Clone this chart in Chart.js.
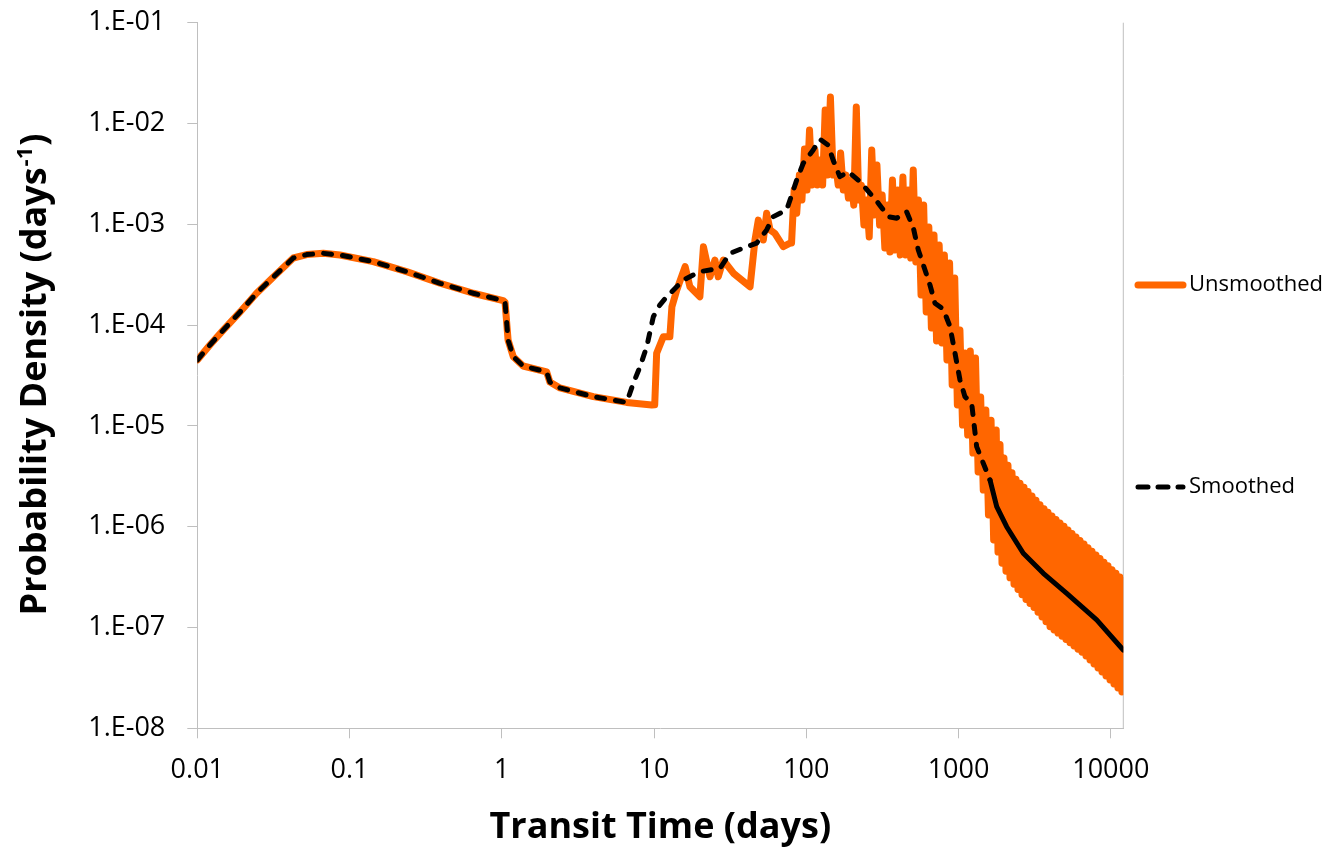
<!DOCTYPE html>
<html>
<head>
<meta charset="utf-8">
<script src="https://cdn.jsdelivr.net/npm/chart.js@4.4.0/dist/chart.umd.min.js"></script>
<style>
  html, body { margin: 0; background: #fff; }
  #wrap { width: 1332px; height: 852px; }
</style>
</head>
<body>
<div id="wrap"><canvas id="transit-canvas" width="1332" height="852"></canvas></div>
<script>
// part of the curve where both series are the same
const sharedDays = [0.01, 0.0121, 0.0148, 0.0191, 0.0245, 0.0316, 0.0427, 0.0523, 0.0673, 0.0865, 0.143, 0.237,
  0.393, 0.65, 1.02, 1.05, 1.10, 1.19, 1.38, 1.97, 2.07, 2.41, 3.99, 6.61]
const sharedDensity = [4.5e-5, 6.35e-5, 8.9e-5, 1.35e-4, 2.07e-4, 3.0e-4, 4.63e-4, 5.01e-4, 5.15e-4, 4.96e-4, 4.26e-4, 3.39e-4,
  2.6e-4, 2.07e-4, 1.75e-4, 1.69e-4, 7.1e-5, 4.86e-5, 3.93e-5, 3.43e-5, 2.72e-5, 2.38e-5, 1.95e-5, 1.71e-5]

const unsmoothedDays = [
  9.66, 10.1, 10.4, 11.5, 12.7, 13.1, 14.1, 16.0, 17.2, 20.0, 21.1, 23.3, 25.1, 26.4, 28.5, 33.2,
  42.7, 46.0, 48.4, 52.2, 54.9, 57.8, 62.3, 70.6, 78.2,
  80, 83.2, 86.5, 90, 93.6, 97.3, 101, 105, 109, 114, 118, 123, 128, 133, 138, 144, 150, 156, 162, 168,
  175, 182, 189, 197, 205, 213, 221, 230, 239, 249, 259, 269, 280, 291, 303, 315, 328, 341, 354, 368,
  383, 398, 414, 431, 448, 466, 485, 504, 524, 545,
  567, 590, 613, 638, 663, 690, 717, 746, 776, 807, 839, 873, 908, 944, 982, 1021, 1062, 1104, 1148, 1194,
  1242, 1292, 1344, 1397, 1453, 1511, 1572, 1635, 1700, 1768,
  1816, 1872, 1929, 1988, 2049, 2112, 2177, 2244, 2313, 2384, 2457, 2533, 2610, 2691, 2773, 2858,
  2946, 3037, 3130, 3226, 3325, 3427, 3533, 3641, 3753, 3868, 3987, 4109, 4236, 4366, 4500, 4638,
  4781, 4927, 5079, 5235, 5395, 5561, 5732, 5908, 6089, 6276, 6469, 6668, 6872, 7083, 7301, 7525,
  7756, 7994, 8240, 8493, 8753, 9022, 9299, 9585, 9879, 10180, 10490, 10810, 11140, 11480, 11830, 12190]
const unsmoothedDensity = [
  1.61e-5, 1.62e-5, 5.25e-5, 7.67e-5, 7.67e-5, 1.52e-4, 2.23e-4, 3.8e-4, 2.4e-4, 1.91e-4, 6.0e-4, 3.02e-4,
  4.42e-4, 3.02e-4, 4.42e-4, 3.27e-4, 2.4e-4, 6.98e-4, 1.1e-3, 6.98e-4, 1.29e-3, 8.8e-4, 8.1e-4, 6.0e-4, 6.5e-4,
  6.52e-4, 2.19e-3, 1.29e-3, 3.08e-3, 1.74e-3, 5.6e-3, 2.19e-3, 8.63e-3, 2.45e-3, 5.46e-3,
  2.45e-3, 4.34e-3, 2.45e-3, 1.36e-2, 3.08e-3, 1.83e-2, 3.08e-3, 3.88e-3, 2.45e-3, 5.09e-3,
  2.19e-3, 3.08e-3, 1.82e-3, 2.75e-3, 1.55e-3, 1.46e-2, 1.74e-3, 2.45e-3, 9.84e-4, 1.74e-3,
  7.48e-4, 5.46e-3, 1.24e-3, 3.88e-3, 9.84e-4, 1.95e-3, 5.82e-4, 1.55e-3, 5.31e-4, 2.75e-3,
  5.56e-4, 2.19e-3, 4.96e-4, 2.94e-3, 4.96e-4, 2.19e-3, 4.63e-4, 3.46e-3, 4.23e-4, 1.74e-3,
  1.99e-4, 1.55e-3, 1.35e-4, 9.40e-4, 9.36e-5, 7.83e-4, 6.96e-5, 6.23e-4, 6.64e-5, 4.96e-4,
  4.51e-5, 4.13e-4, 2.55e-5, 2.93e-4, 1.61e-5, 8.94e-5, 1.02e-5, 5.29e-5, 8.12e-6, 5.53e-5,
  5.38e-6, 4.72e-5, 3.49e-6, 1.94e-5, 2.31e-6, 1.44e-5, 1.31e-6, 1.14e-5, 7.38e-7, 9.11e-6,
  5.60e-7, 6.52e-6, 4.35e-7, 4.80e-6, 3.62e-7, 4.06e-6, 3.11e-7, 3.42e-6, 2.69e-7, 2.95e-6, 2.38e-7, 2.70e-6,
  2.11e-7, 2.46e-6, 1.90e-7, 2.24e-6, 1.73e-7, 2.02e-6, 1.58e-7, 1.83e-6, 1.42e-7, 1.65e-6, 1.27e-7, 1.51e-6,
  1.14e-7, 1.39e-6, 1.02e-7, 1.28e-6, 9.47e-8, 1.18e-6, 8.80e-8, 1.09e-6, 8.18e-8, 1.01e-6, 7.60e-8, 9.30e-7,
  7.07e-8, 8.58e-7, 6.57e-8, 7.92e-7, 6.10e-8, 7.31e-7, 5.68e-8, 6.75e-7, 5.22e-8, 6.20e-7, 4.76e-8, 5.70e-7,
  4.34e-8, 5.25e-7, 3.96e-8, 4.83e-7, 3.62e-8, 4.43e-7, 3.30e-8, 4.09e-7, 3.01e-8, 3.75e-7, 2.75e-8, 3.45e-7,
  2.51e-8, 3.17e-7, 2.29e-8, 2.92e-7]

const smoothedDays = [7.31, 8.09, 8.95, 9.89, 10.9, 12.1, 15.6, 20.0, 27.1, 31.5, 40.6, 47.2, 54.9, 60.7, 74.3, 86.5,
  95.5, 111, 123, 139, 150, 166, 189, 225, 262, 297, 346, 393, 456, 505, 544, 587, 649, 700, 794, 879, 948, 1022,
  1102, 1219, 1315, 1610, 1781, 2070, 2661, 3604, 5133, 8078, 12080]
const smoothedDensity = [2.65e-5, 3.87e-5, 6.1e-5, 1.21e-4, 1.58e-4, 1.91e-4, 2.8e-4, 3.39e-4, 3.66e-4, 5.15e-4, 6.0e-4,
  6.5e-4, 8.8e-4, 1.19e-3, 1.39e-3, 2.75e-3, 4.03e-3, 5.46e-3, 6.97e-3, 6.12e-3, 4.34e-3, 2.97e-3, 3.32e-3, 2.65e-3,
  2.03e-3, 1.62e-3, 1.19e-3, 1.15e-3, 1.33e-3, 9.19e-4, 5.56e-4, 3.95e-4, 2.5e-4, 1.65e-4, 1.44e-4, 9.64e-5, 5.25e-5,
  2.85e-5, 1.95e-5, 1.68e-5, 6.22e-6, 2.9e-6, 1.58e-6, 1.0e-6, 5.45e-7, 3.45e-7, 2.18e-7, 1.19e-7, 5.98e-8]

const xTickValues = [0.01, 0.1, 1, 10, 100, 1000, 10000]
const xTickLabels = ['0.01', '0.1', '1', '10', '100', '1000', '10000']
const yTickValues = [1e-8, 1e-7, 1e-6, 1e-5, 1e-4, 1e-3, 1e-2, 1e-1]
const yTickLabels = ['1.E-08', '1.E-07', '1.E-06', '1.E-05', '1.E-04', '1.E-03', '1.E-02', '1.E-01']

const ORANGE = '#FF6600'
const AXIS_GRAY = '#BFBFBF'
const FONT = '"Open Sans", "Liberation Sans", sans-serif'
const PLOT_TOP = 22.7   // where the 1.E-01 tick sits in the original

function toPoints(days, density) {
  return days.map((d, i) => ({ x: d, y: density[i] }))
}

// titles (with superscript), legend and right border are drawn by hand
const decorations = {
  id: 'decorations',
  beforeDatasetsDraw(chart) {
    const { ctx, chartArea } = chart
    ctx.save()
    ctx.strokeStyle = AXIS_GRAY
    ctx.lineWidth = 1
    ctx.beginPath()
    ctx.moveTo(chartArea.right, chartArea.top)
    ctx.lineTo(chartArea.right, chartArea.bottom)
    ctx.stroke()
    ctx.restore()
  },
  afterDraw(chart) {
    const { ctx, chartArea } = chart
    ctx.save()
    ctx.fillStyle = '#000'

    // x title
    ctx.font = 'bold 36px ' + FONT
    ctx.textAlign = 'center'
    ctx.textBaseline = 'alphabetic'
    ctx.fillText('Transit Time (days)', (chartArea.left + chartArea.right) / 2, 838)

    // y title, rotated
    ctx.translate(46, (chartArea.top + chartArea.bottom) / 2)
    ctx.rotate(-Math.PI / 2)
    ctx.textAlign = 'left'
    const main = 'Probability Density (days'
    ctx.font = 'bold 36px ' + FONT
    const w1 = ctx.measureText(main).width
    const w3 = ctx.measureText(')').width
    ctx.font = 'bold 22px ' + FONT
    const w2 = ctx.measureText('-1').width
    const start = -(w1 + w2 + w3) / 2
    ctx.font = 'bold 36px ' + FONT
    ctx.fillText(main, start, 0)
    ctx.font = 'bold 22px ' + FONT
    ctx.fillText('-1', start + w1 + 1, -14)
    ctx.font = 'bold 36px ' + FONT
    ctx.fillText(')', start + w1 + w2 + 2, 0)
    ctx.restore()

    // legend
    ctx.save()
    ctx.lineCap = 'round'
    ctx.strokeStyle = ORANGE
    ctx.lineWidth = 7
    ctx.beginPath()
    ctx.moveTo(1138, 285)
    ctx.lineTo(1183, 285)
    ctx.stroke()

    ctx.strokeStyle = '#000'
    ctx.lineWidth = 5
    ctx.setLineDash([10, 10])
    ctx.beginPath()
    ctx.moveTo(1138, 487)
    ctx.lineTo(1183, 487)
    ctx.stroke()
    ctx.setLineDash([])

    ctx.fillStyle = '#000'
    ctx.font = '22px ' + FONT
    ctx.textAlign = 'left'
    ctx.textBaseline = 'middle'
    ctx.fillText('Unsmoothed', 1189, 285)
    ctx.fillText('Smoothed', 1189, 487)
    ctx.restore()
  }
}

const tickFont = { family: FONT, size: 27 }

const chart = new Chart(document.getElementById('transit-canvas'), {
  type: 'line',
  data: {
    datasets: [
      {
        label: 'Unsmoothed',
        data: toPoints(sharedDays.concat(unsmoothedDays), sharedDensity.concat(unsmoothedDensity)),
        borderColor: ORANGE,
        borderWidth: 7,
        borderJoinStyle: 'round',
        borderCapStyle: 'round',
        pointRadius: 0,
        tension: 0,
        clip: 0,
        order: 2
      },
      {
        label: 'Smoothed',
        data: toPoints(sharedDays.concat(smoothedDays), sharedDensity.concat(smoothedDensity)),
        borderColor: '#000',
        borderWidth: 5,
        borderDash: [8, 11],
        borderJoinStyle: 'round',
        borderCapStyle: 'round',
        // the dense tail reads as an almost solid line in the original
        segment: { borderDash: ctx => ctx.p0.parsed.x >= 1600 ? [] : undefined },
        pointRadius: 0,
        tension: 0,
        clip: 0,
        order: 1
      }
    ]
  },
  options: {
    responsive: false,
    animation: false,
    devicePixelRatio: 1,
    parsing: false,
    layout: { padding: { top: PLOT_TOP, right: 208.7, left: 0, bottom: 0 } },
    plugins: { legend: { display: false }, tooltip: { enabled: false } },
    scales: {
      x: {
        type: 'logarithmic',
        min: 0.01,
        max: 12080,
        afterBuildTicks(scale) { scale.ticks = xTickValues.map(v => ({ value: v })) },
        afterFit(scale) { scale.height = 852 - 728.3 },
        ticks: {
          autoSkip: false, maxRotation: 0, padding: 16, color: '#000', font: tickFont,
          callback: (value, index) => xTickLabels[index]
        },
        grid: { drawOnChartArea: false, tickLength: 10, color: AXIS_GRAY },
        border: { color: AXIS_GRAY, width: 1 }
      },
      y: {
        type: 'logarithmic',
        min: 1e-8,
        max: 1e-1,
        afterBuildTicks(scale) { scale.ticks = yTickValues.map(v => ({ value: v })) },
        afterFit(scale) {
          scale.width = 197.3
          scale.paddingTop = 0
          scale.paddingBottom = 0
        },
        ticks: {
          autoSkip: false, padding: 22, color: '#000', font: tickFont,
          callback: (value, index) => yTickLabels[index]
        },
        grid: { drawOnChartArea: false, tickLength: 10, color: AXIS_GRAY },
        border: { color: AXIS_GRAY, width: 1 }
      }
    }
  },
  plugins: [decorations]
})

// nudge the plot top onto the original's position if the layout pushed it down
const shift = chart.chartArea.top - PLOT_TOP
if (Math.abs(shift) > 0.5) {
  chart.options.layout.padding.top = Math.max(0, PLOT_TOP - shift)
  chart.update()
}
</script>
</body>
</html>
